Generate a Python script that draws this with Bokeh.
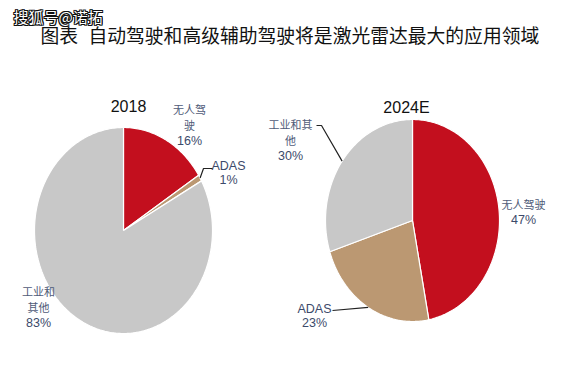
import numpy as np
from bokeh.plotting import figure
from bokeh.models import Range1d
from bokeh.core.properties import value
from bokeh.embed import file_html
from bokeh.resources import INLINE

# ---------------- data ----------------
categories = ["无人驾驶", "ADAS", "工业和其他"]
years = ["2018", "2024E"]
share_2018 = [16, 1, 83]
share_2024 = [47, 23, 30]
title_head = "图表"
title_text = "自动驾驶和高级辅助驾驶将是激光雷达最大的应用领域"
watermark = "搜狐号@诺拓"

# ---------------- style / layout ----------------
colors = ["#c30f1e", "#bb9872", "#c8c8c8"]
CJK = "Noto Sans CJK SC"
LAT = "Liberation Sans"
lbl_color = "#4f5b78"
pct_color = "#3c4a6a"

pies = [
    dict(year=years[0], shares=share_2018, cx=123, cy=230, rx=89, ry=103,
         year_pos=(128, 105), wrap=[3, 4, 3],
         label_pos=[(189, 108), (228, 165), (38, 290)],
         leaders={1: [(203, 168), (212, 168)]}),
    dict(year=years[1], shares=share_2024, cx=412, cy=220, rx=87, ry=101,
         year_pos=(406, 107), wrap=[4, 4, 4],
         label_pos=[(523, 203), (314, 308), (290, 123)],
         leaders={1: [(332, 310)], 2: [(321, 125), (316, 125)]}),
]

W, H = 576, 359
p = figure(width=W, height=H, output_backend="svg", toolbar_location=None,
           x_range=Range1d(0, W), y_range=Range1d(H, 0),
           min_border=0, background_fill_color="white")
p.axis.visible = False
p.grid.visible = False
p.outline_line_color = None


def ell_point(pie, frac):
    th = 2 * np.pi * frac
    return pie["cx"] + pie["rx"] * np.sin(th), pie["cy"] - pie["ry"] * np.cos(th)


for pie in pies:
    shares = np.array(pie["shares"], dtype=float)
    fr = shares / shares.sum()
    starts = np.concatenate([[0], np.cumsum(fr)[:-1]])
    xs, ys = [], []
    for s, f in zip(starts, fr):
        t = np.linspace(s, s + f, max(4, int(f * 360)))
        px, py = ell_point(pie, t)
        xs.append([pie["cx"]] + list(px))
        ys.append([pie["cy"]] + list(py))
    p.patches(xs=xs, ys=ys, fill_color=colors, line_color="white", line_width=1.2)

    # year title
    p.text(x=[pie["year_pos"][0]], y=[pie["year_pos"][1]], text=[pie["year"]],
           text_font=value(LAT), text_font_size="16px", text_color="#111111",
           text_align="center", text_baseline="middle")

    # labels
    for i, cat in enumerate(categories):
        w = pie["wrap"][i]
        lines = [cat[k:k + w] for k in range(0, len(cat), w)]
        lx, ly = pie["label_pos"][i]
        ascii_lbl = cat.isascii()
        step = 14 if ascii_lbl else 16
        for j, ln in enumerate(lines):
            p.text(x=[lx], y=[ly + j * step], text=[ln],
                   text_font=value(LAT if ascii_lbl else CJK),
                   text_font_size="12.5px" if ascii_lbl else "11px",
                   text_color=pct_color if ascii_lbl else lbl_color,
                   text_align="center", text_baseline="middle")
        p.text(x=[lx], y=[ly + len(lines) * step], text=[f"{pie['shares'][i]}%"],
               text_font=value(LAT), text_font_size="12.5px", text_color=pct_color,
               text_align="center", text_baseline="middle")

        if i in pie["leaders"]:
            mid = starts[i] + fr[i] / 2
            mx, my = ell_point(pie, mid)
            pts = [(mx, my)] + pie["leaders"][i]
            p.line(x=[q[0] for q in pts], y=[q[1] for q in pts],
                   line_color="#222222", line_width=1.2)

# title
p.text(x=[40], y=[34], text=[title_head], text_font=value(CJK),
       text_font_size="18.8px", text_color="#111111",
       text_align="left", text_baseline="middle")
p.text(x=[88], y=[34], text=[title_text], text_font=value(CJK),
       text_font_size="18.8px", text_color="#111111",
       text_align="left", text_baseline="middle")

# watermark (white text with dark outline)
for dx, dy in [(-1, 0), (1, 0), (0, -1), (0, 1), (1, 1), (-1, -1), (1, -1), (-1, 1)]:
    p.text(x=[13 + dx], y=[16 + dy], text=[watermark], text_font=value(CJK),
           text_font_size="15px", text_color="#111111",
           text_align="left", text_baseline="middle")
p.text(x=[13], y=[16], text=[watermark], text_font=value(CJK),
       text_font_size="15px", text_color="white",
       text_align="left", text_baseline="middle")

open("out.html", "w").write(file_html(p, INLINE))
